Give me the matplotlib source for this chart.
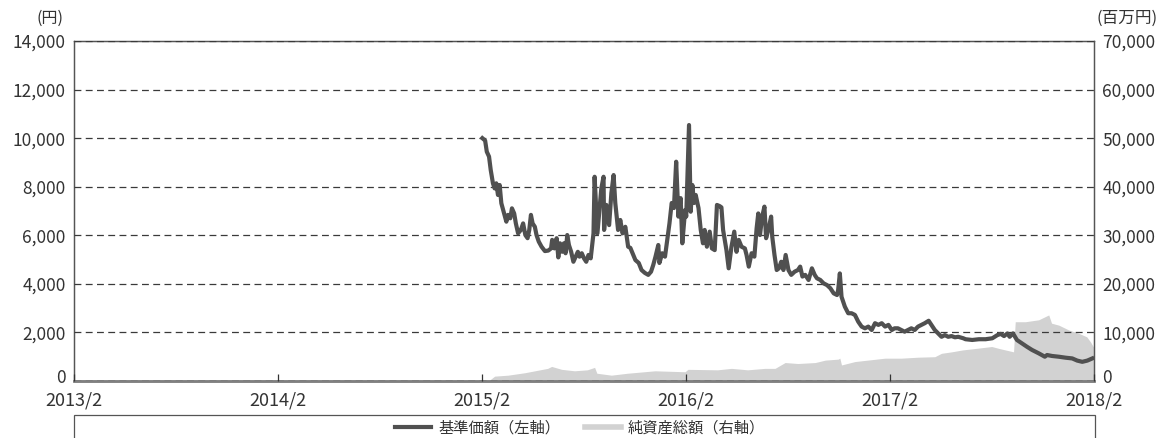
import matplotlib
matplotlib.use("Agg")
import matplotlib.pyplot as plt
import matplotlib.transforms as mtransforms
from matplotlib.lines import Line2D
from matplotlib.patches import Rectangle
from matplotlib.ticker import FuncFormatter
import pandas as pd

plt.rcParams['font.family'] = ['Noto Sans CJK JP', 'DejaVu Sans']

# ---- data ----
nav_dates = [
    "2015-02-02", "2015-02-07", "2015-02-10", "2015-02-14", "2015-02-17", "2015-02-21", "2015-02-24", "2015-02-27",
    "2015-03-02", "2015-03-05", "2015-03-08", "2015-03-13", "2015-03-17", "2015-03-20", "2015-03-24", "2015-03-27",
    "2015-03-31", "2015-04-03", "2015-04-07", "2015-04-12", "2015-04-16", "2015-04-20", "2015-04-24", "2015-04-27",
    "2015-04-30", "2015-05-03", "2015-05-07", "2015-05-10", "2015-05-14", "2015-05-19", "2015-05-25", "2015-05-31",
    "2015-06-05", "2015-06-07", "2015-06-11", "2015-06-15", "2015-06-18", "2015-06-21", "2015-06-25", "2015-06-28",
    "2015-07-01", "2015-07-04", "2015-07-07", "2015-07-11", "2015-07-15", "2015-07-19", "2015-07-23", "2015-07-26",
    "2015-07-30", "2015-08-03", "2015-08-07", "2015-08-11", "2015-08-15", "2015-08-17", "2015-08-20", "2015-08-22",
    "2015-08-27", "2015-09-03", "2015-09-07", "2015-09-08", "2015-09-12", "2015-09-17", "2015-09-21", "2015-09-25",
    "2015-09-28", "2015-10-03", "2015-10-07", "2015-10-11", "2015-10-16", "2015-10-21", "2015-10-25", "2015-10-29",
    "2015-11-03", "2015-11-09", "2015-11-14", "2015-11-20", "2015-11-26", "2015-12-01", "2015-12-05", "2015-12-09",
    "2015-12-14", "2015-12-16", "2015-12-21", "2015-12-26", "2015-12-30", "2016-01-03", "2016-01-07", "2016-01-11",
    "2016-01-15", "2016-01-19", "2016-01-23", "2016-01-26", "2016-01-31", "2016-02-02", "2016-02-07", "2016-02-10",
    "2016-02-13", "2016-02-16", "2016-02-19", "2016-02-24", "2016-02-28", "2016-03-03", "2016-03-06", "2016-03-10",
    "2016-03-15", "2016-03-19", "2016-03-24", "2016-03-28", "2016-04-02", "2016-04-05", "2016-04-08", "2016-04-14",
    "2016-04-18", "2016-04-23", "2016-04-28", "2016-05-02", "2016-05-06", "2016-05-11", "2016-05-17", "2016-05-20",
    "2016-05-24", "2016-05-29", "2016-06-03", "2016-06-07", "2016-06-10", "2016-06-13", "2016-06-17", "2016-06-21",
    "2016-06-24", "2016-06-28", "2016-07-03", "2016-07-05", "2016-07-09", "2016-07-13", "2016-07-17", "2016-07-21",
    "2016-07-25", "2016-07-29", "2016-08-03", "2016-08-08", "2016-08-14", "2016-08-20", "2016-08-24", "2016-08-28",
    "2016-09-02", "2016-09-08", "2016-09-14", "2016-09-19", "2016-09-23", "2016-09-29", "2016-10-05", "2016-10-11",
    "2016-10-17", "2016-10-23", "2016-10-29", "2016-10-31", "2016-11-03", "2016-11-06", "2016-11-12", "2016-11-18",
    "2016-11-24", "2016-11-30", "2016-12-06", "2016-12-12", "2016-12-18", "2016-12-24", "2016-12-30", "2017-01-05",
    "2017-01-11", "2017-01-17", "2017-01-23", "2017-01-29", "2017-02-04", "2017-02-09", "2017-02-15", "2017-02-21",
    "2017-02-27", "2017-03-05", "2017-03-11", "2017-03-17", "2017-03-23", "2017-03-29", "2017-04-04", "2017-04-11",
    "2017-04-16", "2017-04-22", "2017-04-28", "2017-05-04", "2017-05-10", "2017-05-16", "2017-05-22", "2017-05-28",
    "2017-06-03", "2017-06-12", "2017-06-16", "2017-06-28", "2017-07-10", "2017-07-22", "2017-08-03", "2017-08-12",
    "2017-08-18", "2017-08-24", "2017-08-30", "2017-09-03", "2017-09-09", "2017-09-16", "2017-09-25", "2017-10-04",
    "2017-10-13", "2017-10-25", "2017-11-05", "2017-11-09", "2017-11-18", "2017-11-30", "2017-12-12", "2017-12-24",
    "2018-01-02", "2018-01-11", "2018-01-20", "2018-01-29",
]
nav_values = [
    10000, 9900, 9440, 9240, 8690, 8140, 7930, 8140,
    7660, 8070, 7320, 6900, 6560, 6840, 6700, 7110,
    6900, 6490, 6080, 6220, 6490, 6010, 5880, 6220,
    6840, 6490, 6350, 6010, 5740, 5530, 5350, 5370,
    5460, 5810, 5460, 5880, 5090, 5670, 5320, 5670,
    5260, 6010, 5600, 5320, 4910, 5120, 5320, 5120,
    5260, 5050, 4910, 5190, 5050, 5460, 6080, 8410,
    6080, 7930, 8410, 6220, 7250, 6420, 7740, 8480,
    7330, 6220, 6630, 6080, 6350, 5530, 5480, 5260,
    4980, 4860, 4570, 4450, 4370, 4500, 4780, 5120,
    5600, 4860, 5260, 5120, 5810, 6490, 7330, 7120,
    9030, 6770, 7530, 5670, 7040, 6770, 10540, 6970,
    8070, 7330, 7660, 7120, 6220, 5670, 6220, 5530,
    6150, 5460, 5390, 7250, 7200, 7150, 6220, 5390,
    4640, 5530, 6150, 5320, 5810, 5530, 5460, 5190,
    4710, 5260, 5120, 6280, 6900, 6010, 6770, 7180,
    5880, 6220, 6770, 5940, 5190, 4570, 4640, 4910,
    4570, 5190, 4570, 4370, 4500, 4570, 4710, 4300,
    4370, 4160, 4640, 4370, 4230, 4160, 4020, 3950,
    3820, 3610, 3540, 3750, 4430, 3470, 3060, 2790,
    2790, 2720, 2440, 2240, 2170, 2240, 2100, 2380,
    2310, 2380, 2240, 2310, 2100, 2170, 2170, 2100,
    2030, 2100, 2170, 2100, 2240, 2310, 2380, 2480,
    2310, 2100, 1960, 1820, 1890, 1820, 1850, 1800,
    1820, 1760, 1720, 1690, 1720, 1720, 1760, 1890,
    1940, 1850, 1960, 1820, 1960, 1690, 1550, 1410,
    1280, 1140, 1000, 1070, 1030, 1000, 960, 930,
    840, 790, 840, 930,
]

aum_dates = [
    "2015-02-13", "2015-02-24", "2015-03-20", "2015-04-19", "2015-05-30", "2015-06-06", "2015-06-24", "2015-07-17",
    "2015-08-09", "2015-08-22", "2015-08-26", "2015-09-21", "2015-10-20", "2015-12-08", "2016-01-31", "2016-02-05",
    "2016-03-29", "2016-04-23", "2016-05-22", "2016-06-22", "2016-07-10", "2016-07-28", "2016-08-20", "2016-09-20",
    "2016-10-08", "2016-10-31", "2016-11-03", "2016-11-06", "2016-11-30", "2016-12-23", "2017-01-23", "2017-02-21",
    "2017-03-23", "2017-04-22", "2017-05-04", "2017-05-22", "2017-06-11", "2017-07-04", "2017-08-02", "2017-08-15",
    "2017-09-10", "2017-09-13", "2017-10-01", "2017-10-25", "2017-11-12", "2017-11-17", "2017-11-30", "2017-12-18",
    "2018-01-05", "2018-01-19", "2018-01-26", "2018-01-31",
]
aum_values = [
    0, 1000, 1200, 1700, 2600, 3000, 2400, 2100,
    2300, 2800, 1600, 1200, 1600, 2100, 1900, 2400,
    2300, 2600, 2300, 2600, 2600, 3800, 3600, 3800,
    4300, 4500, 4700, 3300, 4000, 4300, 4700, 4700,
    4900, 5000, 5700, 6000, 6400, 6700, 7100, 6700,
    6000, 12200, 12200, 12600, 13600, 11900, 11500, 10500,
    9800, 9100, 8000, 7000,
]

x_ticks = ["2013-02-01", "2014-02-01", "2015-02-01", "2016-02-01", "2017-02-01", "2018-02-01"]
x_tick_labels = ["2013/2", "2014/2", "2015/2", "2016/2", "2017/2", "2018/2"]
left_ticks = [0, 2000, 4000, 6000, 8000, 10000, 12000, 14000]
right_ticks = [0, 10000, 20000, 30000, 40000, 50000, 60000, 70000]
legend_labels = ["基準価額（左軸）", "純資産総額（右軸）"]

# ---- plot ----
W, H = 1164, 438
fig = plt.figure(figsize=(W / 100, H / 100), dpi=100)
ax = fig.add_axes([74 / W, 57 / H, (1094 - 74) / W, 340 / H])
ax2 = ax.twinx()

line_color = "#505050"
area_color = "#d2d2d2"
text_color = "#333333"

ad = pd.to_datetime(aum_dates)
ax2.fill_between(ad, 0, aum_values, color=area_color, lw=0, zorder=1)
ax2.set_ylim(0, 70000)
ax2.set_yticks(right_ticks)

nd = pd.to_datetime(nav_dates)
ax.plot(nd, nav_values, color=line_color, lw=3.0, solid_joinstyle="round", zorder=3)
ax.set_ylim(0, 14000)
ax.set_yticks(left_ticks)

ax.set_zorder(ax2.get_zorder() + 1)
ax.patch.set_visible(False)

ax.set_xlim(pd.Timestamp("2013-02-01"), pd.Timestamp("2018-02-01"))
ax.set_xticks(pd.to_datetime(x_ticks))
ax.set_xticklabels(x_tick_labels)

fmt = FuncFormatter(lambda v, p: f"{int(v):,}")
ax.yaxis.set_major_formatter(fmt)
ax2.yaxis.set_major_formatter(fmt)

ax.yaxis.grid(True, linestyle=(0, (5.5, 3.5)), color="#3a3a3a", lw=0.9)
ax.set_axisbelow(False)

ax.tick_params(axis="y", length=0, pad=6, labelsize=12.5, labelcolor=text_color)
ax2.tick_params(axis="y", length=0, pad=6, labelsize=12.5, labelcolor=text_color)
ax.tick_params(axis="x", direction="in", length=5, width=0.9, color="#333333",
               pad=7.5, labelsize=13, labelcolor=text_color)

# lift the two "0" labels slightly, as in the original
lift = mtransforms.ScaledTranslation(0, 5 / 100, fig.dpi_scale_trans)
ax.yaxis.get_major_ticks()[0].label1.set_transform(
    ax.yaxis.get_major_ticks()[0].label1.get_transform() + lift)
ax2.yaxis.get_major_ticks()[0].label2.set_transform(
    ax2.yaxis.get_major_ticks()[0].label2.get_transform() + lift)

for a in (ax, ax2):
    for s in ("left", "right", "top"):
        a.spines[s].set_color("#555555")
        a.spines[s].set_linewidth(0.9)
    a.spines["bottom"].set_color("#808080")
    a.spines["bottom"].set_linewidth(1.8)

fig.text(63 / W, 1 - 18 / H, "(円)", ha="right", va="center", fontsize=11.5, color=text_color)
fig.text(1097 / W, 1 - 18 / H, "(百万円)", ha="left", va="center", fontsize=12, color=text_color)

# legend box
fig.add_artist(Rectangle((74 / W, -0.2), (1095 - 74) / W, 0.2 + (1 - 415 / H),
                         transform=fig.transFigure, fill=False, ec="#555555", lw=0.9))
handles = [Line2D([], [], color=line_color, lw=3.0),
           Line2D([], [], color=area_color, lw=4.0)]
fig.legend(handles, legend_labels, loc="center", bbox_to_anchor=(580 / W, 1 - 428 / H),
           ncol=2, frameon=False, fontsize=11, handlelength=2.4, handletextpad=0.45,
           columnspacing=1.6, labelcolor=text_color)

fig.savefig("out.png", dpi=100)
